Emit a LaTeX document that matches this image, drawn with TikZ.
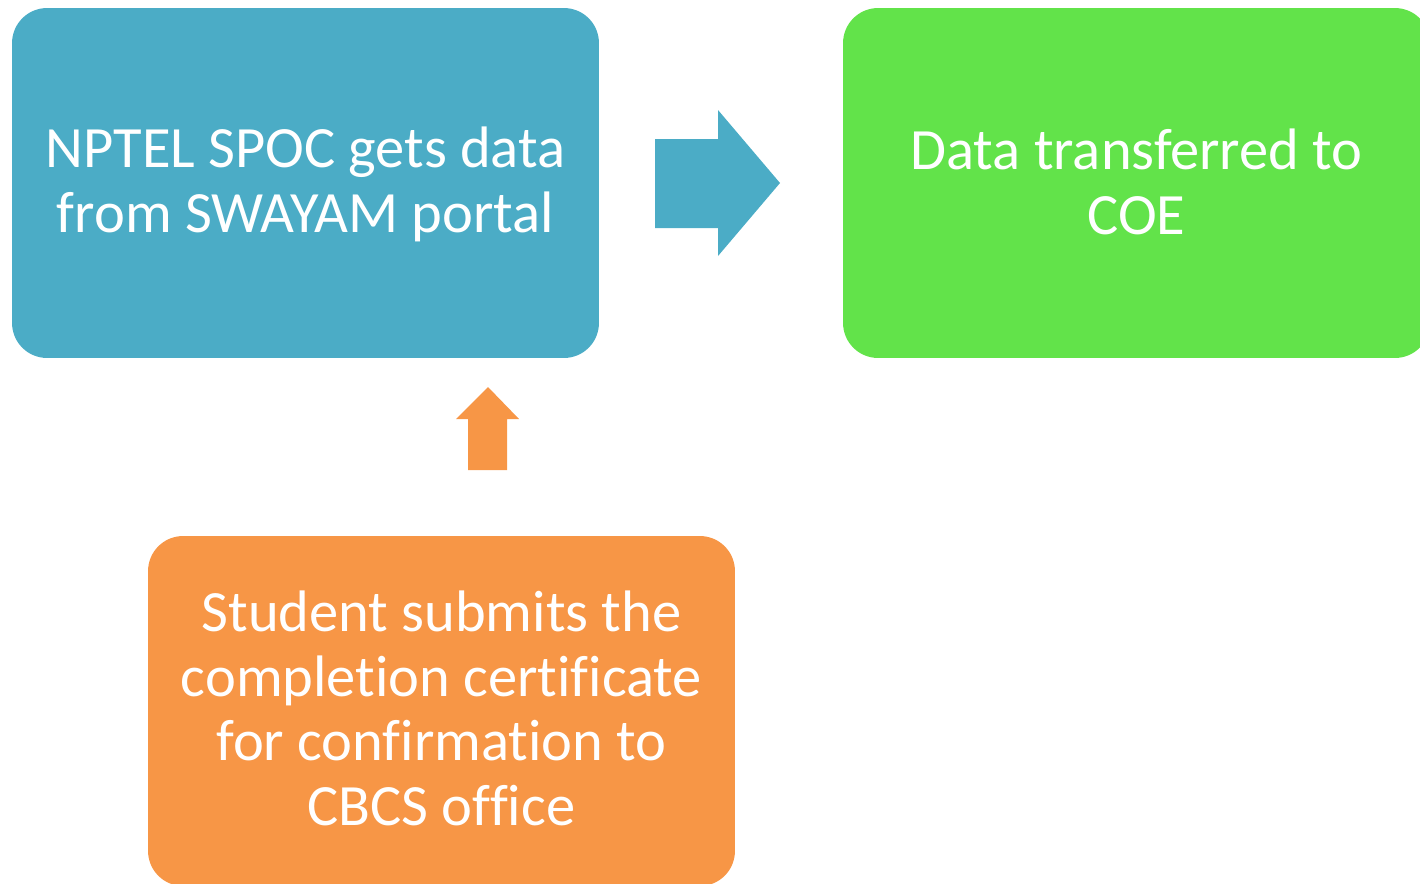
\documentclass[tikz,border=0pt]{standalone}
\usepackage{fontspec}
\setmainfont{Carlito}[Ligatures=NoCommon]
\definecolor{boxblue}{HTML}{4BACC6}
\definecolor{boxgreen}{HTML}{62E34A}
\definecolor{boxorange}{HTML}{F79646}
\tikzset{
    stepbox/.style={rounded corners=0.7cm, minimum width=11.74cm, minimum height=7cm, inner sep=0pt},
    boxtext/.style={text=white, align=center, font=\fontsize{33.3}{36.8}\selectfont}
}
\begin{document}
\begin{tikzpicture}[x=0.02cm, y=-0.02cm]
    \useasboundingbox (0,0) rectangle (1420,883);
    \clip (0,0) rectangle (1420,883);
    % Boxes
    \node[stepbox, fill=boxblue] (spoc) at (305.5,183) {};
    \node[boxtext] at ([yshift=-0.8pt]spoc.center) {NPTEL SPOC gets data\\from SWAYAM portal};
    \node[stepbox, fill=boxgreen] (coe) at (1136.5,183) {};
    \node[boxtext] at ([yshift=0.5pt]coe.center) {Data transferred to\\COE};
    \node[stepbox, fill=boxorange] (student) at (441.5,711) {};
    \node[boxtext] at ([yshift=1.5pt]student.center) {Student submits the\\completion certificate\\for confirmation to\\CBCS office};
    % Right arrow
    \fill[boxblue] (655,139) -- (718,139) -- (718,110) -- (780,183) -- (718,256) -- (718,228) -- (655,228) -- cycle;
    % Up arrow
    \fill[boxorange] (468,470) -- (468,419) -- (456,419) -- (488,387) -- (519,419) -- (507,419) -- (507,470) -- cycle;
\end{tikzpicture}
\end{document}
